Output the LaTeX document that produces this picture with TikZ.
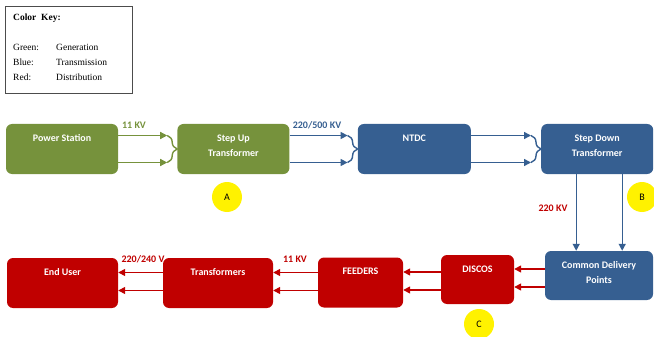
\documentclass[tikz,border=0pt]{standalone}
\usepackage{fontspec}
\setmainfont{Liberation Serif}
\newfontfamily\boxfont{Carlito}
\usetikzlibrary{positioning, arrows.meta, decorations.pathreplacing}
\definecolor{gencolor}{HTML}{76923C}
\definecolor{transcolor}{HTML}{365F91}
\definecolor{distcolor}{HTML}{C00000}

\tikzset{
  stage/.style={rounded corners=6pt, inner sep=0pt, minimum height=50pt, minimum width=112pt},
  stagetext/.style={text=white, font=\boxfont\bfseries\fontsize{10}{15}\selectfont, align=center, anchor=north, yshift=-7.5pt},
  feed/.style={line width=1.4pt, -{Triangle[length=7pt,width=7pt]}},
  merge/.style={line width=1.4pt, decorate, decoration={brace, amplitude=10pt}},
  volt/.style={font=\boxfont\bfseries\fontsize{10}{12}\selectfont},
  marker/.style={circle, fill=yellow, minimum size=30pt, inner sep=0pt, font=\boxfont\fontsize{10}{12}\selectfont}
}

\begin{document}
\begin{tikzpicture}[x=1pt, y=-1pt]
  \useasboundingbox (0,0) rectangle (654,337);

  % colour key
  \node[draw=black!70, line width=0.8pt, minimum width=127pt, minimum height=87pt, inner sep=0pt] (key) at (68.5,49.5) {};
  \node[anchor=west, inner sep=0pt, font=\bfseries\fontsize{9.5}{11}\selectfont] (keyhead) at (13,18) {Color\enspace Key:};
  \node[anchor=north west, inner sep=0pt, font=\fontsize{9.5}{15}\selectfont] (keyrows) at (13,40)
    {\begin{tabular}{@{}p{43pt}@{}l@{}} Green: & Generation\\ Blue: & Transmission\\ Red: & Distribution\end{tabular}};

  % generation and transmission
  \node[stage, fill=gencolor, label={[stagetext]north:Power Station}] (ps) at (62,149) {};
  \node[stage, fill=gencolor, right=59pt of ps, label={[stagetext]north:Step Up\\Transformer}] (su) {};
  \node[stage, fill=transcolor, minimum width=113pt, right=68pt of su, label={[stagetext]north:NTDC}] (ntdc) {};
  \node[stage, fill=transcolor, right=70pt of ntdc, label={[stagetext]north:Step Down\\Transformer}] (sd) {};

  % distribution
  \node[stage, fill=transcolor, minimum width=108pt, minimum height=49pt, label={[stagetext]north:Common Delivery\\Points}] (cdp) at (599,275.5) {};
  \node[stage, fill=distcolor, minimum width=73pt, minimum height=49pt, label={[stagetext]north:DISCOS}] (discos) at (477.5,279.5) {};
  \node[stage, fill=distcolor, minimum width=85pt, label={[stagetext]north:FEEDERS}] (feeders) at (360.5,282.5) {};
  \node[stage, fill=distcolor, minimum width=110pt, label={[stagetext]north:Transformers}] (trans) at (218,283) {};
  \node[stage, fill=distcolor, minimum width=111pt, label={[stagetext]north:End User}] (enduser) at (62.5,283) {};

  % markers
  \node[marker] (ma) at (227,197) {A};
  \node[marker] (mb) at (642,197) {B};
  \node[marker] (mc) at (479,324) {C};

  % top row links
  \foreach \src/\dst/\col in {ps/su/gencolor, su/ntdc/transcolor, ntdc/sd/transcolor} {
    \draw[feed, \col] ([yshift=13.5pt]\src.east) -- ([xshift=-10pt, yshift=13.5pt]\dst.west);
    \draw[feed, \col] ([yshift=-13.5pt]\src.east) -- ([xshift=-10pt, yshift=-13.5pt]\dst.west);
    \draw[merge, \col] ([xshift=-10pt, yshift=13.5pt]\dst.west) -- ([xshift=-10pt, yshift=-13.5pt]\dst.west);
  }

  % down to the delivery points
  \draw[feed, transcolor] ([xshift=-21pt]sd.south) -- ([xshift=-21pt]sd.south |- cdp.north);
  \draw[feed, transcolor] ([xshift=25pt]sd.south) -- ([xshift=25pt]sd.south |- cdp.north);

  % bottom row links
  \foreach \src/\dst in {cdp/discos, discos/feeders, feeders/trans, trans/enduser} {
    \draw[feed, distcolor] ([yshift=10.5pt]\dst.east -| \src.west) -- ([yshift=10.5pt]\dst.east);
    \draw[feed, distcolor] ([yshift=-7.5pt]\dst.east -| \src.west) -- ([yshift=-7.5pt]\dst.east);
  }

  % voltages
  \node[volt, text=gencolor] (v11) at (134,125) {11 KV};
  \node[volt, text=transcolor] (v500) at (317,125) {220/500 KV};
  \node[volt, text=distcolor] (v220) at (553,208) {220 KV};
  \node[volt, text=distcolor] (v240) at (143,259) {220/240 V};
  \node[volt, text=distcolor] (v11b) at (295,259) {11 KV};
\end{tikzpicture}
\end{document}
